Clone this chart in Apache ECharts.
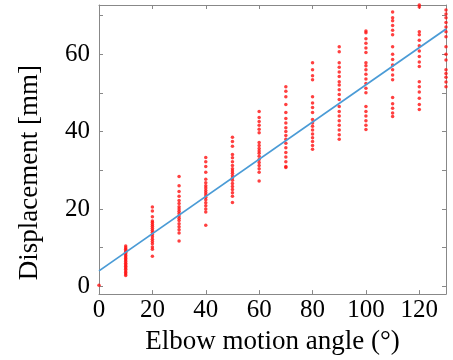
<!DOCTYPE html>
<html>
<head>
<meta charset="utf-8">
<script src="https://cdn.jsdelivr.net/npm/echarts@6/dist/echarts.min.js"></script>
<style>
  html, body { margin: 0; padding: 0; background: #fff; }
  #chart { width: 453px; height: 360px; }
</style>
</head>
<body>
<div id="chart"></div>
<script>
// measured displacement per elbow angle (mm)
const ang0 = [0.3]
const ang10 = [2.8, 3.2, 3.6, 4.0, 4.4, 4.8, 5.2, 5.6, 6.0, 6.4, 6.8, 7.2, 7.6, 8.0, 8.4, 8.8, 9.2, 9.6, 10.0, 10.4]
const ang20 = [7.8, 9.6, 10.2, 11.0, 11.6, 12.2, 12.8, 13.4, 14.0, 14.5, 15.0, 15.5, 16.0, 16.5, 16.9, 18.0, 19.5, 20.5]
const ang30 = [11.7, 13.8, 14.6, 15.4, 16.2, 17.0, 17.6, 18.2, 18.8, 19.4, 20.0, 20.6, 21.4, 22.2, 23.3, 24.5, 26.0, 28.4]
const ang40 = [15.8, 19.2, 20.0, 20.8, 21.6, 22.4, 23.0, 23.6, 24.2, 24.8, 25.4, 26.0, 26.8, 27.7, 29.5, 31.0, 32.2, 33.3]
const ang50 = [21.7, 23.3, 24.2, 25.0, 25.8, 26.6, 27.4, 28.0, 28.6, 29.2, 29.8, 30.4, 31.2, 32.2, 33.2, 34.1, 36.2, 37.4, 38.5]
const ang60 = [27.2, 29.5, 30.4, 31.2, 32.0, 32.8, 33.6, 34.4, 35.0, 35.6, 36.4, 37.2, 39.7, 40.6, 41.6, 42.6, 43.6, 45.2]
const ang70 = [30.7, 31.0, 32.2, 33.4, 34.6, 35.8, 37.0, 38.0, 39.0, 40.0, 41.0, 42.2, 43.4, 44.9, 47.0, 49.0, 50.4, 51.6]
const ang80 = [35.4, 36.4, 37.4, 38.4, 39.4, 40.4, 41.4, 42.2, 43.1, 44.9, 46.2, 47.4, 49.0, 53.4, 54.4, 56.0, 57.8]
const ang90 = [38.0, 39.2, 40.4, 41.6, 42.8, 44.0, 45.2, 46.5, 48.3, 49.6, 50.8, 52.0, 52.9, 54.2, 55.4, 56.6, 57.8, 60.6, 61.9]
const ang100 = [40.5, 41.6, 42.8, 44.0, 45.2, 46.5, 50.0, 51.2, 52.4, 53.6, 54.8, 56.0, 57.0, 57.8, 60.4, 61.6, 62.8, 64.0, 65.5, 66.0]
const ang110 = [43.9, 44.8, 46.0, 47.2, 48.8, 53.4, 54.6, 56.0, 57.2, 58.6, 60.0, 61.9, 65.0, 66.2, 67.4, 68.6, 69.4, 70.9]
const ang120 = [45.7, 47.0, 48.6, 50.2, 51.6, 52.9, 56.8, 58.0, 59.4, 60.8, 62.2, 63.6, 65.0, 65.8, 72.2, 72.7]
const ang130 = [51.6, 52.8, 54.0, 55.0, 56.0, 58.5, 60.0, 61.9, 64.5, 65.8, 67.0, 68.2, 69.4, 70.4, 71.4]

const angles = [0, 10, 20, 30, 40, 50, 60, 70, 80, 90, 100, 110, 120, 130]
const measured = [ang0, ang10, ang20, ang30, ang40, ang50, ang60, ang70, ang80, ang90, ang100, ang110, ang120, ang130]

// fitted line end points
const fitAngles = [0, 130]
const fitValues = [4.0, 66.5]

const xTicks = [0, 20, 40, 60, 80, 100, 120]
const yLabels = [0, 20, 40, 60]
const yTicks = [0, 10, 20, 30, 40, 50, 60, 70]

let points = []
angles.forEach((a, i) => {
  measured[i].forEach(v => points.push([a, v]))
})

const font = 'Liberation Serif'
const frame = '#888'

let myChart = echarts.init(document.getElementById('chart'))
myChart.setOption({
  animation: false,
  grid: { left: 99, right: 7, top: 5, bottom: 65 },
  xAxis: [
    {
      type: 'value',
      min: 0,
      max: 130,
      name: 'Elbow motion angle (°)',
      nameLocation: 'middle',
      nameGap: 33,
      nameTextStyle: { fontFamily: font, fontSize: 27, color: '#000' },
      axisLine: { onZero: false, lineStyle: { color: frame } },
      axisTick: { inside: true, length: 4, customValues: xTicks, lineStyle: { color: frame } },
      axisLabel: { customValues: xTicks, fontFamily: font, fontSize: 25, color: '#000', margin: 4 },
      splitLine: { show: false }
    },
    {
      type: 'value',
      position: 'top',
      min: 0,
      max: 130,
      axisLine: { onZero: false, lineStyle: { color: frame } },
      axisTick: { inside: true, length: 4, customValues: xTicks, lineStyle: { color: frame } },
      axisLabel: { show: false },
      splitLine: { show: false }
    }
  ],
  yAxis: [
    {
      type: 'value',
      min: -2,
      max: 72.7,
      name: 'Displacement [mm]',
      nameLocation: 'middle',
      nameGap: 56,
      // push the title a little downward like the original
      nameTextStyle: { fontFamily: font, fontSize: 27, color: '#000', padding: [0, 46, 0, 0] },
      axisLine: { show: true, onZero: false, lineStyle: { color: frame } },
      axisTick: { show: true, inside: true, length: 4, customValues: yTicks, lineStyle: { color: frame } },
      axisLabel: { customValues: yLabels, fontFamily: font, fontSize: 25, color: '#000', margin: 9 },
      splitLine: { show: false }
    },
    {
      type: 'value',
      position: 'right',
      min: -2,
      max: 72.7,
      axisLine: { show: true, onZero: false, lineStyle: { color: frame } },
      axisTick: { show: true, inside: true, length: 4, customValues: yTicks, lineStyle: { color: frame } },
      axisLabel: { show: false },
      splitLine: { show: false }
    }
  ],
  series: [
    {
      type: 'scatter',
      data: points,
      symbolSize: 3.5,
      clip: false,
      itemStyle: { color: '#ff1010' }
    },
    {
      type: 'line',
      data: fitAngles.map((a, i) => [a, fitValues[i]]),
      showSymbol: false,
      lineStyle: { color: '#4a9bd6', width: 1.8 }
    }
  ]
})
</script>
</body>
</html>
